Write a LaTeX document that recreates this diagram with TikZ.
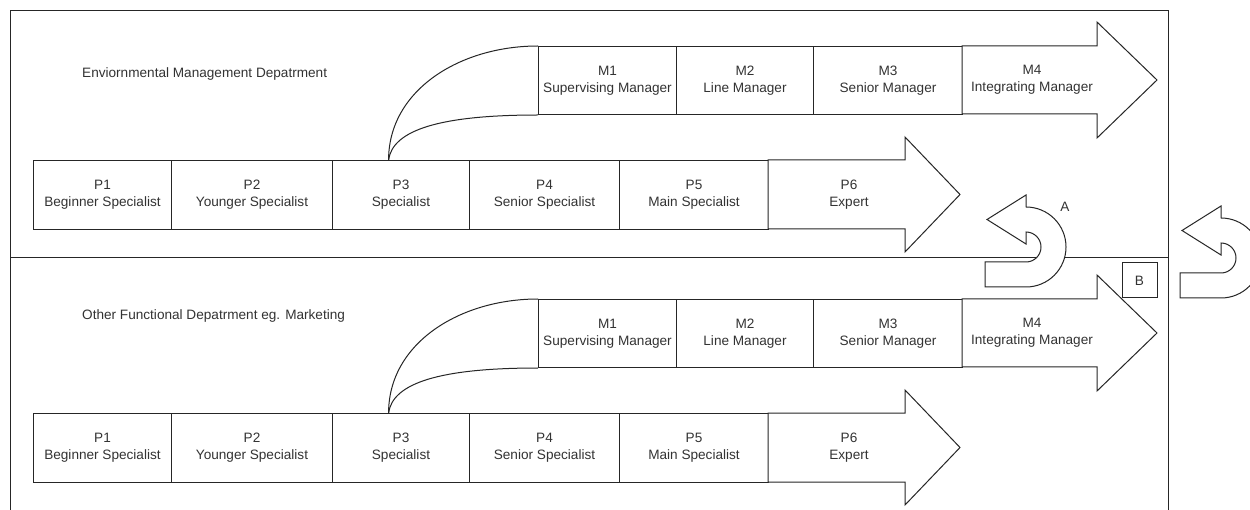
\documentclass[tikz,border=0pt]{standalone}
\usepackage{fontspec}
\setmainfont{Liberation Sans}
\usetikzlibrary{calc}

\tikzset{
  ink/.style={draw=black!85, line width=1pt},
  cell/.style={ink, fill=white, inner sep=0pt, align=center, anchor=north west,
    font=\fontsize{13.6}{17}\selectfont, text=black!80},
  label/.style={inner sep=0pt, align=center, font=\fontsize{13.6}{17}\selectfont, text=black!80},
  heading/.style={label, anchor=west},
  link/.style={ink},
  shape arrow/.style={ink, fill=white, line join=miter},
  uturn/.style={ink, fill=white, line join=miter}
}

% One department: specialist track, manager track and the branch between them.
% #1 name prefix, #2 downward shift in pt, #3 department title, #4 title height
\newcommand\careerrow[4]{%
  \begin{scope}[yshift=-#2pt]
    \node[heading] (#1title) at (82,#4) {#3};
    % specialist track
    \node[cell, minimum width=138, minimum height=69] (#1p1) at (33,160) {P1\\Beginner Specialist};
    \node[cell, minimum width=161, minimum height=69] (#1p2) at (171,160) {P2\\Younger Specialist};
    \node[cell, minimum width=137, minimum height=69] (#1p3) at (332,160) {P3\\Specialist};
    \node[cell, minimum width=150, minimum height=69] (#1p4) at (469,160) {P4\\Senior Specialist};
    \node[cell, minimum width=149, minimum height=69] (#1p5) at (619,160) {P5\\Main Specialist};
    \draw[shape arrow] (768,160) -- (905,160) -- (905,137) -- (960,194.5)
      -- (905,252) -- (905,229) -- (768,229) -- cycle;
    \node[label] (#1p6) at (849,194.5) {P6\\Expert};
    % manager track
    \node[cell, minimum width=138, minimum height=68] (#1m1) at (538,46) {M1\\Supervising Manager};
    \node[cell, minimum width=137, minimum height=68] (#1m2) at (676,46) {M2\\Line Manager};
    \node[cell, minimum width=149, minimum height=68] (#1m3) at (813,46) {M3\\Senior Manager};
    \draw[shape arrow] (962,46) -- (1097,46) -- (1097,22) -- (1157,80)
      -- (1097,138) -- (1097,114) -- (962,114) -- cycle;
    \node[label] (#1m4) at (1032,80) {M4\\Integrating Manager};
    % branch from P3 up to M1
    \coordinate (#1fork) at ($(#1p3.north west)!0.41!(#1p3.north east)$);
    \draw[link] (#1fork) .. controls +(0,-70) and +(-78,0) .. (#1m1.north west);
    \draw[link] (#1fork) .. controls +(4,-30) and +(-98,0) .. (#1m1.south west);
  \end{scope}}

\begin{document}
\begin{tikzpicture}[x=1pt, y=-1pt]
  \useasboundingbox (0,0) rectangle (1250,510);
  \clip (0,0) rectangle (1250,510);
  \fill[white] (0,0) rectangle (1250,510);

  % department panels
  \draw[ink] (10.5,510) -- (10.5,11) -- (1168,11) -- (1168,510);
  \draw[ink] (10.5,258) -- (1168,258);

  \careerrow{e}{0}{Enviornmental Management Depatrment}{74}
  \careerrow{o}{253}{Other Functional Depatrment eg. Marketing}{63}

  % u-turn marks
  \draw[uturn, shift={(1026,247)}] (-41,40) -- (0,40)
    arc[start angle=90, end angle=-90, radius=40]
    -- (0,-52) -- (-39,-27.5) -- (0,-3) -- (0,-15)
    arc[start angle=-90, end angle=90, radius=15]
    -- (-41,15) -- cycle;
  \node[label] (a) at (1065,207) {A};

  \draw[uturn, shift={(1221,258)}] (-41,40) -- (0,40)
    arc[start angle=90, end angle=-90, radius=40]
    -- (0,-52) -- (-39,-27.5) -- (0,-3) -- (0,-15)
    arc[start angle=-90, end angle=90, radius=15]
    -- (-41,15) -- cycle;

  \node[cell, anchor=center, minimum width=35, minimum height=35] (b) at (1139.5,280.5) {B};
\end{tikzpicture}
\end{document}
